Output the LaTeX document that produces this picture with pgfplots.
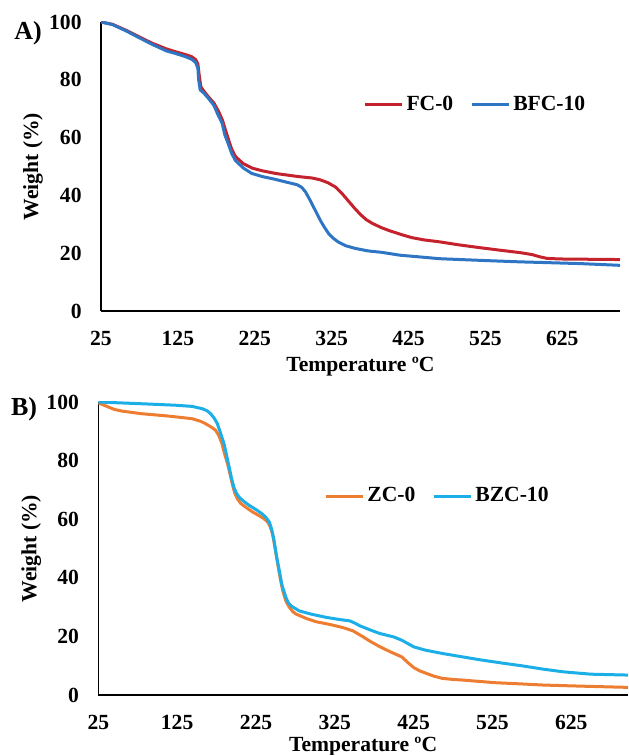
\documentclass[border=0pt]{standalone}
\usepackage{fontspec}
\setmainfont{Liberation Serif}
\usepackage{pgfplots}
\pgfplotsset{compat=1.18}
\definecolor{fcred}{RGB}{196,34,44}
\definecolor{bfcblue}{RGB}{46,117,196}
\definecolor{zcorange}{RGB}{237,125,49}
\definecolor{bzcblue}{RGB}{28,174,230}
\newcommand{\lblfont}{\fontsize{10.8}{13}\selectfont\bfseries}
\pgfplotsset{
  tga/.style={
    scale only axis,
    axis lines=left,
    axis line style={-, black, line width=0.75pt},
    major tick length=0pt,
    ymin=0, ymax=100, xmin=25,
    ytick={0,20,...,100},
    xtick={25,125,...,625},
    /pgf/number format/assume math mode=true,
    ticklabel style={font=\lblfont},
    yticklabel style={anchor=east, inner sep=0pt, xshift=-9.5pt},
    xticklabel style={anchor=north, inner sep=0pt, yshift=-10pt},
    label style={font=\lblfont},
    ylabel={Weight (\%)},
    xlabel={Temperature ºC},
    legend columns=2,
    legend style={draw=none, fill=none, inner sep=0pt, font=\lblfont,
      nodes={inner sep=1.5pt},
      /tikz/every even column/.append style={column sep=7pt}},
    legend image code/.code={\draw[#1] (0pt,0pt) -- (18.5pt,0pt);},
    every axis plot/.append style={line width=1.5pt, line join=round},
  }
}
\begin{document}
\begin{tikzpicture}
\useasboundingbox (0,0) rectangle (314pt,377.5pt);
% panel A
\begin{axis}[tga,
  at={(50.5pt,222pt)}, anchor=origin,
  width=259.5pt, height=144.5pt, xmax=700,
  ylabel style={at={(axis description cs:-0.131,0.5)}, anchor=center},
  xlabel style={at={(axis description cs:0.5,-0.194)}, anchor=center},
  legend style={at={(axis description cs:0.505,0.713)}, anchor=west},
]
\addplot[fcred] coordinates {
(25,100)(40,99.2)(57,97.2)(75,94.8)(92,92.6)(110,90.7)(122,89.7)(135,88.7)
(143,88.0)(148,87)(151,85.5)(153,81)(155,77.5)(159,76)(165,74)(172,71.9)
(178,69)(183,66)(187,62.5)(191,59.2)(195,56)(200,53.4)(210,51)(222,49.4)
(235,48.5)(252,47.6)(268,47)(282,46.5)(300,46.0)(310,45.4)(320,44.4)
(330,42.9)(338,40.8)(346,38.3)(354,35.8)(362,33.5)(370,31.6)(378,30.3)
(390,28.8)(400,27.8)(415,26.5)(429,25.4)(445,24.6)(466,23.9)(490,22.9)
(518,21.9)(545,21)(570,20.2)(586,19.5)(595,18.8)(605,18.2)(622,18.0)
(660,17.9)(700,17.8)
};
\addplot[bfcblue] coordinates {
(25,100)(40,99.1)(57,97)(75,94.5)(92,92.2)(110,90)(122,89.1)(135,88)
(143,87.1)(148,86)(151,84)(152,80)(154,76.5)(158.7,75.4)(165,73.5)
(171.7,71.2)(177,68)(182.5,65)(186,61)(191,57.5)(195,54.5)(200,52)
(210,49.5)(221,47.6)(235,46.5)(251,45.6)(266,44.6)(280,43.7)(286,42.8)
(291,41.2)(296,38.8)(301,36.2)(306,33.6)(311,31)(316,28.8)(321,26.8)
(327,25.2)(334,23.8)(343,22.6)(355,21.7)(372,20.8)(390,20.3)(414,19.3)
(440,18.7)(465,18.1)(492,17.8)(530,17.4)(570,17.0)(610,16.7)(648,16.4)
(700,15.8)
};
\legend{FC-0, BFC-10}
\end{axis}
\node[font=\fontsize{13}{15}\selectfont\bfseries] at (14pt,361pt) {A)};
% panel B
\begin{axis}[tga,
  at={(49.15pt,30pt)}, anchor=origin,
  width=264.85pt, height=146.5pt, xmax=697,
  ylabel style={at={(axis description cs:-0.1265,0.5)}, anchor=center},
  xlabel style={at={(axis description cs:0.5,-0.1775)}, anchor=center},
  legend style={at={(axis description cs:0.426,0.679)}, anchor=west},
]
\addplot[zcorange] coordinates {
(25,99.7)(35,98.6)(45,97.5)(54.8,96.9)(80,96.0)(114,95.2)(144,94.3)
(155,93.4)(161,92.6)(168,91.5)(174,90.3)(178,88.5)(182,85.7)(185,82.5)
(189,78.9)(192,75.5)(195,72)(198,69)(201.5,66.9)(206,65.3)(212,64.1)
(220,62.6)(229,61.2)(235,60.2)(240,59)(243,57.5)(246,55)(249,50.5)
(252.6,44.7)(256,39.5)(259,35.6)(263,32)(267.5,29.9)(272,28.4)(276,27.6)
(290,26)(301.5,25)(320,24)(335.5,23)(348,21.9)(360,20)(370,18.3)
(382,16.5)(395,14.8)(410,13)(418,11)(425.5,9.3)(433,8.2)(441,7.4)
(450,6.5)(461,5.7)(475,5.3)(487,5.1)(510,4.6)(528,4.2)(560,3.8)
(589,3.4)(640,3.0)(697,2.6)
};
\addplot[bzcblue] coordinates {
(25,100)(80,99.4)(122.8,98.9)(144,98.5)(157,97.7)(163,97)(167.5,96)
(172,94.5)(176,92.6)(180,89.5)(184.5,85.7)(188,81.5)(191,77.8)(194,74)
(197,70.9)(200,69)(203.6,67.5)(210,66)(216.4,64.7)(225,63.3)(233,61.8)
(238,60.5)(242,59)(245,56.5)(248,52.7)(251,47.5)(254.7,42.4)(258,37.5)
(263,33.3)(266,31.5)(269.6,30.4)(275,29.5)(280,28.7)(295,27.6)(314,26.5)
(330,25.8)(344,25.3)(350,24.6)(357,23.6)(370,22.2)(382,21)(400,19.8)
(410,18.7)(418,17.5)(425.5,16.4)(440,15.3)(461,14.2)(485,13.1)(512,11.9)
(540,10.8)(564,9.9)(590,8.8)(615,7.9)(650,7.1)(697,6.8)
};
\legend{ZC-0, BZC-10}
\end{axis}
\node[font=\fontsize{13}{15}\selectfont\bfseries] at (12pt,173pt) {B)};
\end{tikzpicture}
\end{document}
